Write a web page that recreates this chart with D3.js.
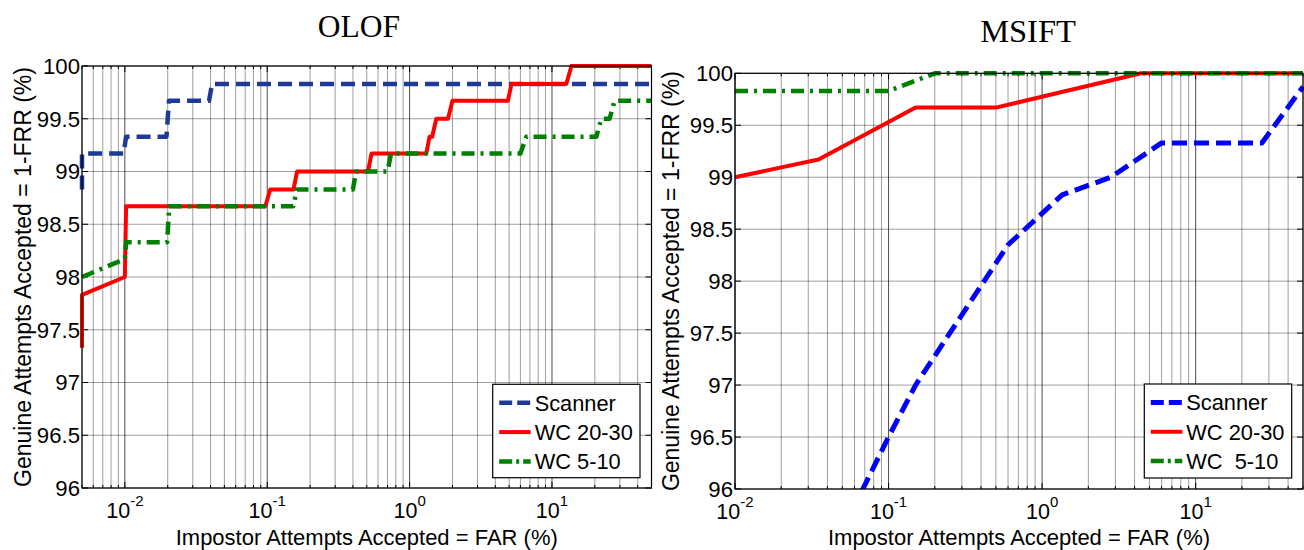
<!DOCTYPE html>
<html>
<head>
<meta charset="utf-8">
<script src="https://cdn.jsdelivr.net/npm/d3@7"></script>
<style>
  html, body { margin: 0; padding: 0; background: #fff; }
  svg { display: block; }
  text { font-family: "Liberation Sans", Arial, sans-serif; fill: #000; }
</style>
</head>
<body>
<svg id="chart" width="1304" height="550"></svg>
<script>
// ---------------- DATA ----------------
const yTicks = [96, 96.5, 97, 97.5, 98, 98.5, 99, 99.5, 100];
const yTickLabels = ["96", "96.5", "97", "97.5", "98", "98.5", "99", "99.5", "100"];
const xMajorExponents = [-2, -1, 0, 1];

const titles = ["OLOF", "MSIFT"];
const xLabel = "Impostor Attempts Accepted = FAR (%)";
const yLabel = "Genuine Attempts Accepted = 1-FRR (%)";
const seriesNamesOLOF = ["Scanner", "WC 20-30", "WC 5-10"];
const seriesNamesMSIFT = ["Scanner", "WC 20-30", "WC  5-10"];

// OLOF  [FAR %, GAR %]
const olofScanner = [[0.005, 98.83], [0.005, 99.17], [0.0098, 99.17], [0.0102, 99.33], [0.0196, 99.33], [0.0204, 99.67],
  [0.039, 99.67], [0.041, 99.83], [50, 99.83]];
const olofWC2030 = [[0.005, 97.33], [0.005, 97.83], [0.01, 98.0], [0.0102, 98.67], [0.097, 98.67], [0.105, 98.83],
  [0.153, 98.83], [0.162, 99.0], [0.51, 99.0], [0.54, 99.17], [1.31, 99.17], [1.38, 99.33], [1.44, 99.33], [1.54, 99.5],
  [1.86, 99.5], [2.0, 99.67], [4.9, 99.67], [5.2, 99.83], [12.6, 99.83], [13.7, 100], [50, 100]];
const olofWC510 = [[0.005, 98.0], [0.01, 98.17], [0.0102, 98.33], [0.0198, 98.33], [0.0205, 98.67], [0.152, 98.67],
  [0.162, 98.83], [0.4, 98.83], [0.42, 99.0], [0.7, 99.0], [0.74, 99.17], [6.0, 99.17], [6.6, 99.33], [20.5, 99.33],
  [22.2, 99.5], [25.4, 99.5], [27.5, 99.67], [50, 99.67]];

// MSIFT [FAR %, GAR %]
const msiftScanner = [[0.05, 95.6], [0.1, 96.5], [0.15, 97.0], [0.6, 98.35], [1.35, 98.83], [2.8, 99.0], [6, 99.33],
  [27, 99.33], [50, 99.87]];
const msiftWC2030 = [[0.01, 99.0], [0.035, 99.17], [0.15, 99.67], [0.5, 99.67], [4.4, 100], [50, 100]];
const msiftWC510 = [[0.01, 99.83], [0.1, 99.83], [0.2, 100], [50, 100]];

// ---------------- STYLES ----------------
const navy = "#1d3a96", red = "#ff0000", green = "#008000", blue = "#0000ff";
const styleScannerL = { color: navy, width: 4.5, dash: "14,7" };
const styleScannerR = { color: blue, width: 5, dash: "15,7" };
const styleRed = { color: red, width: 4, dash: null };
const styleGreen = { color: green, width: 4.5, dash: "13,6,3,6" };

const svg = d3.select("#chart");

function drawPanel(cfg) {
  const { left, right, top, bottom, xDomain, series, names, styles, title, titleX, titleY, titleSize,
          yLabelX, legend } = cfg;
  const x = d3.scaleLog().domain(xDomain).range([left, right]);
  const y = d3.scaleLinear().domain([96, 100]).range([bottom, top]);
  const g = svg.append("g");

  // minor + major log ticks
  const minor = [];
  const lo = Math.floor(Math.log10(xDomain[0])), hi = Math.ceil(Math.log10(xDomain[1]));
  for (let e = lo; e <= hi; e++) {
    for (let k = 1; k <= 9; k++) {
      const v = k * Math.pow(10, e);
      if (v >= xDomain[0] * 0.9999 && v <= xDomain[1] * 1.0001) minor.push({ v, major: k === 1 });
    }
  }

  // grid
  g.append("g").selectAll("line").data(minor).join("line")
    .attr("x1", d => x(d.v)).attr("x2", d => x(d.v))
    .attr("y1", top).attr("y2", bottom)
    .attr("stroke", "#000").attr("stroke-opacity", d => d.major ? 0.7 : 0.38).attr("stroke-width", 1);
  g.append("g").selectAll("line").data(yTicks).join("line")
    .attr("x1", left).attr("x2", right)
    .attr("y1", d => y(d)).attr("y2", d => y(d))
    .attr("stroke", "#000").attr("stroke-opacity", 0.38).attr("stroke-width", 1);

  // ticks (inside)
  const tk = g.append("g").attr("stroke", "#000").attr("stroke-width", 1);
  minor.forEach(d => {
    const L = d.major ? 6 : 3;
    tk.append("line").attr("x1", x(d.v)).attr("x2", x(d.v)).attr("y1", bottom).attr("y2", bottom - L);
    tk.append("line").attr("x1", x(d.v)).attr("x2", x(d.v)).attr("y1", top).attr("y2", top + L);
  });
  yTicks.forEach(v => {
    tk.append("line").attr("x1", left).attr("x2", left + 6).attr("y1", y(v)).attr("y2", y(v));
    tk.append("line").attr("x1", right).attr("x2", right - 6).attr("y1", y(v)).attr("y2", y(v));
  });

  // clip
  const cid = "clip" + Math.round(left);
  svg.append("defs").append("clipPath").attr("id", cid).append("rect")
    .attr("x", left - 4).attr("y", top - 4).attr("width", right - left + 8).attr("height", bottom - top + 4);

  const line = d3.line().x(d => x(d[0])).y(d => y(d[1]));
  const lg = g.append("g").attr("clip-path", `url(#${cid})`);
  series.forEach((s, i) => {
    lg.append("path").attr("d", line(s)).attr("fill", "none")
      .attr("stroke", styles[i].color).attr("stroke-width", styles[i].width)
      .attr("stroke-dasharray", styles[i].dash).attr("stroke-linejoin", "round");
  });

  // box
  g.append("rect").attr("x", left).attr("y", top).attr("width", right - left).attr("height", bottom - top)
    .attr("fill", "none").attr("stroke", "#000").attr("stroke-width", 1.2);

  // y tick labels
  g.append("g").selectAll("text").data(yTicks).join("text")
    .attr("x", left - 2).attr("y", d => y(d)).attr("dy", "0.36em")
    .attr("text-anchor", "end").attr("font-size", 22.2)
    .text((d, i) => yTickLabels[i]);

  // x tick labels
  xMajorExponents.forEach(e => {
    const v = Math.pow(10, e);
    if (v < xDomain[0] || v > xDomain[1]) return;
    const t = g.append("text").attr("x", x(v)).attr("y", bottom + 29.5).attr("text-anchor", "middle").attr("font-size", 21.5);
    t.append("tspan").text("10");
    t.append("tspan").attr("dy", -12).attr("font-size", 15).text(String(e));
  });

  // axis labels
  g.append("text").attr("x", (left + right) / 2).attr("y", 544.5).attr("text-anchor", "middle")
    .attr("font-size", 22).text(xLabel);
  g.append("text").attr("transform", `translate(${yLabelX},${(top + bottom) / 2}) rotate(-90)`)
    .attr("text-anchor", "middle").attr("font-size", 23).text(yLabel);

  // title
  g.append("text").attr("x", titleX).attr("y", titleY).attr("text-anchor", "middle")
    .style("font-family", "'Liberation Serif', 'Times New Roman', serif").attr("font-size", titleSize).text(title);

  // legend
  const lgd = g.append("g");
  lgd.append("rect").attr("x", legend.x).attr("y", legend.y).attr("width", legend.w).attr("height", legend.h)
    .attr("fill", "#fff").attr("stroke", "#000").attr("stroke-width", 1.2);
  names.forEach((n, i) => {
    const cy = legend.y + 18.5 + i * 29.3;
    lgd.append("line").attr("x1", legend.x + 6.5).attr("x2", legend.x + 38).attr("y1", cy).attr("y2", cy)
      .attr("stroke", styles[i].color).attr("stroke-width", styles[i].width)
      .attr("stroke-dasharray", styles[i].dash ? (i === 0 ? "13,5" : "13,4,3,4") : null);
    lgd.append("text").attr("x", legend.x + 42).attr("y", cy).attr("dy", "0.36em")
      .attr("font-size", 21.8).style("white-space", "pre").attr("xml:space", "preserve").text(n);
  });
}

drawPanel({
  left: 82, right: 651.5, top: 66, bottom: 488, xDomain: [0.005, 50],
  series: [olofScanner, olofWC2030, olofWC510], names: seriesNamesOLOF,
  styles: [styleScannerL, styleRed, styleGreen],
  title: titles[0], titleX: 359, titleY: 37, titleSize: 31.5, yLabelX: 31,
  legend: { x: 492.7, y: 384.3, w: 147.3, h: 93.4 }
});
drawPanel({
  left: 735, right: 1303, top: 73.3, bottom: 489, xDomain: [0.01, 50],
  series: [msiftScanner, msiftWC2030, msiftWC510], names: seriesNamesMSIFT,
  styles: [styleScannerR, styleRed, styleGreen],
  title: titles[1], titleX: 1028, titleY: 42, titleSize: 32.5, yLabelX: 679,
  legend: { x: 1144.3, y: 384, w: 147.4, h: 94 }
});
</script>
</body>
</html>
